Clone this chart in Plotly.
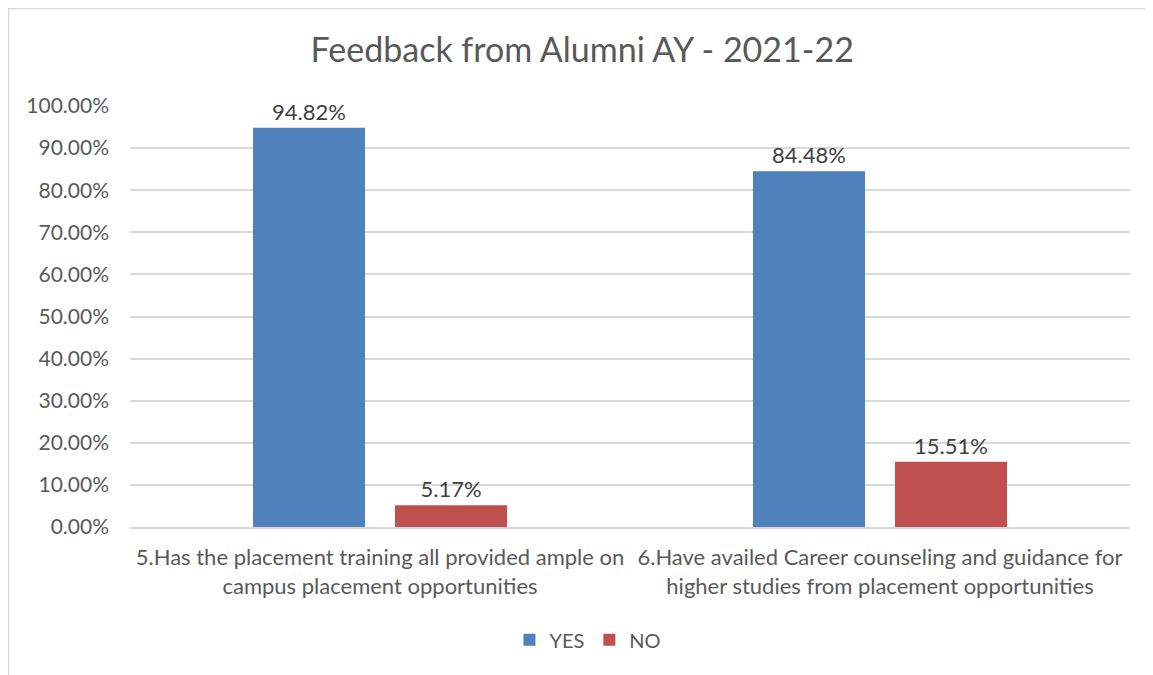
import plotly.graph_objects as go

# data
categories = [
    "5.Has the placement training all provided ample on<br>campus placement opportunities",
    "6.Have availed Career counseling and guidance for<br>higher studies from placement opportunities",
]
yes_values = [0.9482, 0.8448]
no_values = [0.0517, 0.1551]
y_ticks = [i / 10 for i in range(11)]

FONT = "Lato, 'Open Sans', sans-serif"
GREY = "#595959"
GRID = "#d9d9d9"

fig = go.Figure()
fig.add_trace(go.Bar(
    x=categories, y=yes_values, name="YES",
    marker=dict(color="#4f81bd", line=dict(width=0)),
    texttemplate="%{y:.2%}", textposition="outside",
    textfont=dict(size=22, color="#404040", family=FONT),
    cliponaxis=False,
))
fig.add_trace(go.Bar(
    x=categories, y=no_values, name="NO",
    marker=dict(color="#c0504d", line=dict(width=0)),
    texttemplate="%{y:.2%}", textposition="outside",
    textfont=dict(size=22, color="#404040", family=FONT),
    cliponaxis=False,
))

# the page body adds an 8px offset, so margins are shifted by -8
fig.update_layout(
    width=1153, height=675,
    paper_bgcolor="white", plot_bgcolor="white",
    font=dict(family=FONT, color=GREY, size=20),
    title=dict(
        text="Feedback from Alumni AY - 2021-22",
        font=dict(size=34, color=GREY, family=FONT),
        x=0.498, xref="container", xanchor="center",
        y=0.938, yref="container", yanchor="middle",
    ),
    barmode="group", bargap=0.432, bargroupgap=0.211,
    margin=dict(l=122, r=31, t=98, b=156),
    showlegend=True,
    legend=dict(
        orientation="h", xref="container", yref="container",
        x=0.503, xanchor="center", y=0.064, yanchor="middle",
        font=dict(size=20, color=GREY), itemwidth=30,
    ),
    xaxis=dict(
        showgrid=False, showline=True, linecolor=GRID, linewidth=1.5,
        ticks="", tickfont=dict(size=22, color=GREY),
        ticklabelstandoff=10,
    ),
    yaxis=dict(
        range=[0, 1], tickvals=y_ticks, tickformat=".2%",
        showgrid=True, gridcolor=GRID, gridwidth=1.5,
        zeroline=False, showline=False, ticks="",
        tickfont=dict(size=21, color=GREY),
        ticklabelstandoff=20,
    ),
)

# light outer chart border like the spreadsheet chart frame
fig.add_shape(
    type="rect", xref="paper", yref="paper",
    x0=-0.1215, x1=1.05, y0=-0.4, y1=1.2316,
    line=dict(color=GRID, width=1.5), fillcolor="rgba(0,0,0,0)",
    layer="below",
)

fig.write_html("out.html")
